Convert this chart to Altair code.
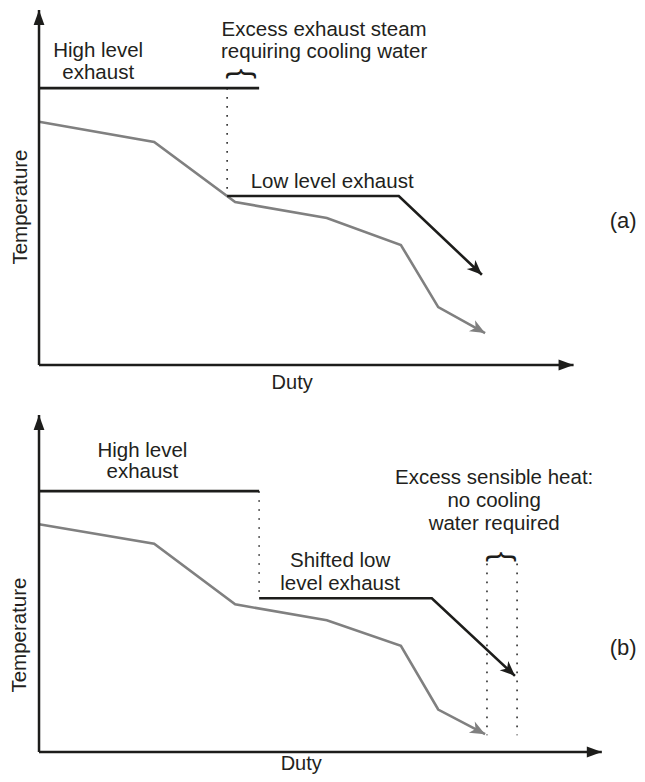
import math
import altair as alt
import pandas as pd

FONT = "Liberation Sans"
INK = "#1d1d1b"
GRAY = "#808080"
TXT = "#231f20"
FS = 20.5

# ---------------- shared horizontal scale (Duty, arbitrary units) -------------
DUTY_DOMAIN = [-5.82, 112.2]
W = 629

# ---------------- Panel (a) ---------------------------------------------------
A_TEMP_DOMAIN = [-7.61, 100.56]
A_H = 384
a_axis_duty_end = 100.3
a_axis_temp_end = 100.0
a_proc_duty = [0.0, 21.6, 36.8, 54.0, 67.9, 74.9, 83.7]
a_proc_temp = [68.5, 62.8, 45.9, 41.4, 33.8, 16.3, 9.0]
a_high_duty = [0.0, 41.3]
a_high_temp = [78.0, 78.0]
a_low_duty = [35.3, 67.5, 83.1]
a_low_temp = [47.6, 47.6, 25.4]
a_dot_duty = [35.3]
a_dot_top = [78.0]
a_dot_bottom = [47.6]
a_brace_duty = [38.1]
a_brace_temp = [82.0]
a_labels = ["High level", "exhaust", "Excess exhaust steam",
            "requiring cooling water", "Low level exhaust"]
a_label_duty = [11.1, 11.1, 53.5, 53.5, 55.0]
a_label_temp = [86.8, 80.6, 92.7, 86.5, 49.9]
a_tag = "(a)"
a_tag_pos = [109.6, 38.6]
a_ytitle_pos = [-3.38, 44.5]
a_xtitle_pos = [47.5, -6.76]

# ---------------- Panel (b) ---------------------------------------------------
B_TEMP_DOMAIN = [-6.53, 106.82]
B_H = 382
b_axis_duty_end = 105.6
b_axis_temp_end = 100.0
b_proc_duty = [0.0, 21.6, 36.8, 54.0, 67.9, 74.9, 83.7]
b_proc_temp = [67.6, 61.8, 43.8, 39.1, 31.5, 12.6, 5.3]
b_high_duty = [0.0, 41.3]
b_high_temp = [77.4, 77.4]
b_low_duty = [41.3, 73.7, 89.3]
b_low_temp = [45.6, 45.6, 22.6]
b_dot_duty = [41.3, 84.05, 89.7]
b_dot_top = [77.4, 55.9, 55.9]
b_dot_bottom = [45.6, 5.0, 5.0]
b_brace_duty = [86.9]
b_brace_temp = [57.9]
b_labels = ["High level", "exhaust", "Excess sensible heat:", "no cooling",
            "water required", "Shifted low", "level exhaust"]
b_label_duty = [19.4, 19.4, 85.4, 85.4, 85.4, 56.5, 56.5]
b_label_temp = [87.65, 81.2, 79.4, 72.65, 65.9, 55.0, 48.2]
b_tag = "(b)"
b_tag_pos = [109.6, 28.8]
b_ytitle_pos = [-3.5, 34.7]
b_xtitle_pos = [49.2, -5.34]

FEATHER = "M0,0L0.42,1L0,0.72L-0.42,1Z"
SOLID = "M0,0L0.36,1L-0.36,1Z"


def heading(x0, y0, x1, y1, px_x, px_y):
    dx = (x1 - x0) * px_x
    dy = -(y1 - y0) * px_y
    return (math.degrees(math.atan2(dx, -dy)) + 360.0) % 360.0


def panel(P, ydom, height):
    px_x = W / (DUTY_DOMAIN[1] - DUTY_DOMAIN[0])
    px_y = height / (ydom[1] - ydom[0])
    xs = alt.Scale(domain=DUTY_DOMAIN, nice=False, zero=False)
    ys = alt.Scale(domain=ydom, nice=False, zero=False)

    def X(f="x"):
        return alt.X(f"{f}:Q", scale=xs, axis=None)

    def Y(f="y"):
        return alt.Y(f"{f}:Q", scale=ys, axis=None)

    # axes
    axes_df = pd.DataFrame({
        "x": [0.0, 0.0], "y": [0.0, 0.0],
        "x2": [P["xend"], 0.0], "y2": [0.0, P["yend"]],
    })
    axes = alt.Chart(axes_df).mark_rule(color=INK, strokeWidth=2.5).encode(
        x=X(), y=Y(), x2="x2:Q", y2="y2:Q")
    axis_heads_df = pd.DataFrame({
        "x": [0.0, P["xend"]], "y": [P["yend"], 0.0],
        "angle": [0.0, 90.0],
    })
    axis_heads = alt.Chart(axis_heads_df).mark_point(
        shape=SOLID, size=900, filled=True, color=INK, opacity=1, strokeWidth=0
    ).encode(x=X(), y=Y(), angle=alt.Angle("angle:Q", scale=None))

    # dotted guides
    dots_df = pd.DataFrame({"x": P["dot_duty"], "y": P["dot_top"], "y2": P["dot_bottom"]})
    dots = alt.Chart(dots_df).mark_rule(
        color="#3a3a3a", strokeWidth=1.7, strokeDash=[1.7, 7.3]
    ).encode(x=X(), y=Y(), y2="y2:Q")

    # process (grey) curve
    proc_df = pd.DataFrame({"x": P["proc_duty"], "y": P["proc_temp"],
                            "o": list(range(len(P["proc_duty"])))})
    proc = alt.Chart(proc_df).mark_line(color=GRAY, strokeWidth=2.6).encode(
        x=X(), y=Y(), order="o:Q")

    # exhaust (black) curves
    ex_rows = []
    for name, xs_, ys_ in [("high", P["high_duty"], P["high_temp"]),
                           ("low", P["low_duty"], P["low_temp"])]:
        for i, (a, b) in enumerate(zip(xs_, ys_)):
            ex_rows.append({"x": a, "y": b, "s": name, "o": i})
    ex = alt.Chart(pd.DataFrame(ex_rows)).mark_line(color=INK, strokeWidth=2.6).encode(
        x=X(), y=Y(), detail="s:N", order="o:Q")

    # arrow heads on curves
    heads_df = pd.DataFrame({
        "x": [P["proc_duty"][-1], P["low_duty"][-1]],
        "y": [P["proc_temp"][-1], P["low_temp"][-1]],
        "angle": [
            heading(P["proc_duty"][-2], P["proc_temp"][-2], P["proc_duty"][-1], P["proc_temp"][-1], px_x, px_y),
            heading(P["low_duty"][-2], P["low_temp"][-2], P["low_duty"][-1], P["low_temp"][-1], px_x, px_y),
        ],
        "c": [GRAY, INK],
    })
    heads = alt.Chart(heads_df).mark_point(
        shape=FEATHER, size=900, filled=True, opacity=1, strokeWidth=0
    ).encode(x=X(), y=Y(), angle=alt.Angle("angle:Q", scale=None),
             color=alt.Color("c:N", scale=None))

    # labels
    lab_df = pd.DataFrame({"x": P["label_duty"], "y": P["label_temp"], "t": P["labels"]})
    labels = alt.Chart(lab_df).mark_text(
        font=FONT, fontSize=FS, color=TXT, align="center", baseline="alphabetic"
    ).encode(x=X(), y=Y(), text="t:N")

    tag_df = pd.DataFrame({"x": [P["tag_pos"][0]], "y": [P["tag_pos"][1]], "t": [P["tag"]]})
    tag = alt.Chart(tag_df).mark_text(
        font=FONT, fontSize=22, color=TXT, align="center", baseline="alphabetic"
    ).encode(x=X(), y=Y(), text="t:N")

    yt_df = pd.DataFrame({"x": [P["ytitle_pos"][0]], "y": [P["ytitle_pos"][1]], "t": ["Temperature"]})
    ytitle = alt.Chart(yt_df).mark_text(
        font=FONT, fontSize=FS, color=TXT, align="center", baseline="middle", angle=270
    ).encode(x=X(), y=Y(), text="t:N")

    xt_df = pd.DataFrame({"x": [P["xtitle_pos"][0]], "y": [P["xtitle_pos"][1]], "t": ["Duty"]})
    xtitle = alt.Chart(xt_df).mark_text(
        font=FONT, fontSize=20, color=TXT, align="center", baseline="alphabetic"
    ).encode(x=X(), y=Y(), text="t:N")

    br_df = pd.DataFrame({"x": P["brace_duty"], "y": P["brace_temp"], "t": ["{"] * len(P["brace_duty"])})
    brace = alt.Chart(br_df).mark_text(
        font=FONT, fontSize=31, color=INK, align="center", baseline="middle", angle=90
    ).encode(x=X(), y=Y(), text="t:N")

    return alt.layer(dots, proc, ex, axes, axis_heads, heads, labels, tag,
                     ytitle, xtitle, brace).properties(width=W, height=height)


PA = dict(xend=a_axis_duty_end, yend=a_axis_temp_end, proc_duty=a_proc_duty,
          proc_temp=a_proc_temp, high_duty=a_high_duty, high_temp=a_high_temp,
          low_duty=a_low_duty, low_temp=a_low_temp, dot_duty=a_dot_duty,
          dot_top=a_dot_top, dot_bottom=a_dot_bottom, brace_duty=a_brace_duty,
          brace_temp=a_brace_temp, labels=a_labels, label_duty=a_label_duty,
          label_temp=a_label_temp, tag=a_tag, tag_pos=a_tag_pos,
          ytitle_pos=a_ytitle_pos, xtitle_pos=a_xtitle_pos)
PB = dict(xend=b_axis_duty_end, yend=b_axis_temp_end, proc_duty=b_proc_duty,
          proc_temp=b_proc_temp, high_duty=b_high_duty, high_temp=b_high_temp,
          low_duty=b_low_duty, low_temp=b_low_temp, dot_duty=b_dot_duty,
          dot_top=b_dot_top, dot_bottom=b_dot_bottom, brace_duty=b_brace_duty,
          brace_temp=b_brace_temp, labels=b_labels, label_duty=b_label_duty,
          label_temp=b_label_temp, tag=b_tag, tag_pos=b_tag_pos,
          ytitle_pos=b_ytitle_pos, xtitle_pos=b_xtitle_pos)

chart = alt.vconcat(
    panel(PA, A_TEMP_DOMAIN, A_H),
    panel(PB, B_TEMP_DOMAIN, B_H),
    spacing=0, bounds="flush",
).properties(
    padding=0,
    background="white",
).configure_view(stroke=None)

chart.save("out.html", embed_options={"renderer": "svg", "actions": False})
